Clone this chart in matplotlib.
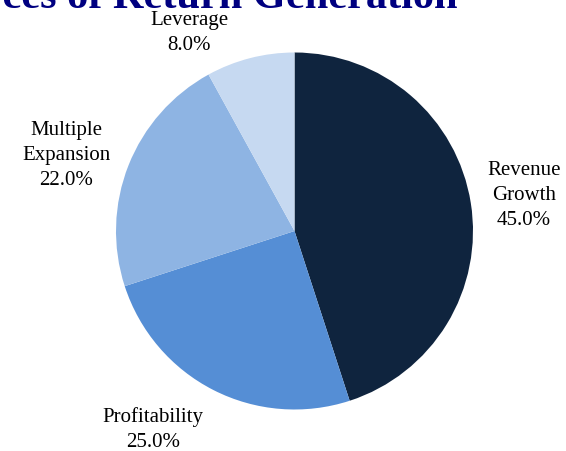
import numpy as np
import matplotlib
matplotlib.use("Agg")
import matplotlib.pyplot as plt

# Return attribution by source (percent of total)
categories = ["Revenue\nGrowth", "Profitability", "Multiple\nExpansion", "Leverage"]
shares = [45.0, 25.0, 22.0, 8.0]
colors = ["#0F243E", "#558ED5", "#8EB4E3", "#C6D9F1"]
title = "Sources of Return Generation"

W, H, DPI = 566, 451, 100
fig = plt.figure(figsize=(W / DPI, H / DPI), dpi=DPI)
fig.patch.set_facecolor("white")

serif = ["Liberation Serif", "DejaVu Serif"]

# pie axes: centre (294.5, 231) px from top-left, radius 178.5 px
R = 178.5
cx, cy = 294.5, 231.0
ax = fig.add_axes([(cx - R) / W, (H - cy - R) / H, 2 * R / W, 2 * R / H])

wedges, _ = ax.pie(shares, colors=colors, startangle=90, counterclock=False,
                   radius=1.0, center=(0, 0),
                   wedgeprops=dict(linewidth=0))
ax.set_xlim(-1, 1)
ax.set_ylim(-1, 1)
ax.set_aspect("equal")
ax.axis("off")

# labels: radial placement from each wedge's mid angle, then nudged
label_dist = 1.3
nudges = [(0.0, -0.002), (-0.203, 0.048), (-0.071, -0.055), (-0.268, -0.150)]
for w, cat, val, (nx, ny) in zip(wedges, categories, shares, nudges):
    mid = np.deg2rad((w.theta1 + w.theta2) / 2.0)
    x = label_dist * np.cos(mid) + nx
    y = label_dist * np.sin(mid) + ny
    ax.text(x, y, f"{cat}\n{val:.1f}%", ha="center", va="center",
            fontsize=15, family=serif, color="#000000", clip_on=False,
            linespacing=1.43)

# title sits partly above the top edge of the canvas
fig.text(458 / W, 1 - 8 / H, title, ha="right", va="baseline",
         fontsize=30.5, fontweight="bold", family=serif, color="#000080")

fig.savefig("out.png", dpi=DPI)
